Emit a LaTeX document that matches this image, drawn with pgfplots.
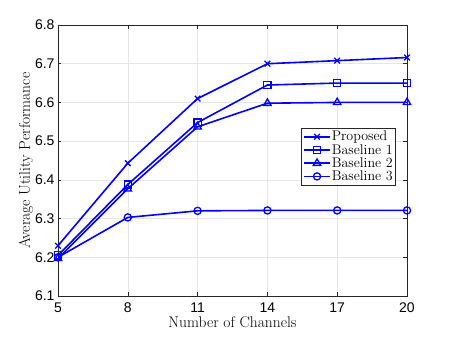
\documentclass[border=0pt]{standalone}
\usepackage{pgfplots}
\usepackage{fontspec}
\pgfplotsset{compat=1.18}
\newfontfamily\ticksans{Liberation Sans}
\definecolor{mblue}{RGB}{0,0,255}
\definecolor{gridgray}{RGB}{230,230,230}
\definecolor{boxgray}{RGB}{38,38,38}

\begin{document}
\begin{tikzpicture}[x=1pt,y=1pt]
\path[use as bounding box] (0,0) rectangle (451,338);
\begin{axis}[
    at={(58pt,42pt)}, anchor=south west,
    scale only axis,
    width=349pt, height=271pt,
    xmin=5, xmax=20, ymin=6.1, ymax=6.8,
    xtick={5,8,11,14,17,20},
    ytick={6.1,6.2,...,6.8},
    yticklabel style={/pgf/number format/.cd,fixed,fixed zerofill,precision=1},
    xticklabel style={yshift=-3pt},
    /pgf/number format/assume math mode=true,
    ticklabel style={font=\ticksans\fontsize{14}{15}\selectfont, text=black},
    tick align=inside,
    tick style={boxgray, line width=0.5pt},
    major tick length=3.5pt,
    axis line style={boxgray, line width=0.6pt},
    grid=major,
    grid style={gridgray, line width=0.5pt},
    xlabel={Number of Channels},
    ylabel={Average Utility Performance},
    label style={font=\fontsize{15.5}{16}\selectfont, text=black},
    xlabel style={yshift=3pt},
    ylabel style={yshift=-5pt},
    legend style={at={(0.968,0.620)}, anchor=north east, draw=boxgray, fill=white,
        font=\fontsize{14}{15}\selectfont, row sep=0pt, inner sep=2pt,
        nodes={inner sep=1pt}},
    legend cell align=left,
    every axis plot/.append style={mblue, line width=1.6pt, mark size=3.6pt,
        mark options={solid, line width=1.3pt, fill=none}},
    legend image code/.code={\draw[mark repeat=2,mark phase=2,#1]
        plot coordinates {(0pt,0pt)(13pt,0pt)(26pt,0pt)};},
]
\addplot[mark=x, mark size=4pt] coordinates {(5,6.230) (8,6.443) (11,6.610) (14,6.700) (17,6.708) (20,6.716)};
\addplot[mark=square] coordinates {(5,6.205) (8,6.388) (11,6.548) (14,6.645) (17,6.650) (20,6.650)};
\addplot[mark=triangle, mark size=4.3pt] coordinates {(5,6.197) (8,6.377) (11,6.537) (14,6.598) (17,6.600) (20,6.600)};
\addplot[mark=o] coordinates {(5,6.200) (8,6.303) (11,6.320) (14,6.321) (17,6.321) (20,6.321)};
\legend{Proposed, Baseline 1, Baseline 2, Baseline 3}
\end{axis}
\end{tikzpicture}
\end{document}
